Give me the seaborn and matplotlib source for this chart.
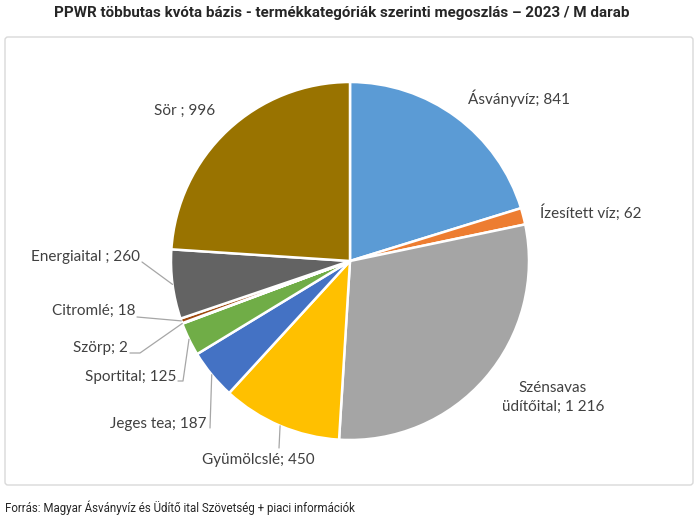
import numpy as np
import matplotlib.pyplot as plt
import seaborn as sns
from matplotlib.patches import FancyBboxPatch

categories = ["Ásványvíz", "Ízesített víz", "Szénsavas\nüdítőital", "Gyümölcslé",
              "Jeges tea", "Sportital", "Szörp", "Citromlé", "Energiaital ", "Sör "]
values = [841, 62, 1216, 450, 187, 125, 2, 18, 260, 996]
value_labels = ["841", "62", "1 216", "450", "187", "125", "2", "18", "260", "996"]
colors = ["#5B9BD5", "#ED7D31", "#A5A5A5", "#FFC000", "#4472C4",
          "#70AD47", "#264478", "#9E480E", "#636363", "#997300"]

# label anchors in pixels (x, y from top), alignment, and leader line bends
label_pos = [(468, 98, "left"), (540, 213, "left"), (553, 397, "center"),
             (258, 460, "center"), (207, 424, "right"), (176, 377, "right"),
             (128, 348, "right"), (136, 311, "right"), (140, 257, "right"),
             (215, 111, "right")]
leaders = {
    3: [(279, 448)],
    4: [(210, 428)],
    5: [(178, 381), (183, 381)],
    6: [(130, 353), (140, 353)],
    7: [(137, 317)],
    8: [(142, 262)],
}

W, H = 699, 529
sns.set_theme(style="white")
plt.rcParams["font.family"] = ["Lato", "DejaVu Sans"]

fig = plt.figure(figsize=(W / 100, H / 100), dpi=100)
ax = fig.add_axes([0, 0, 1, 1])

cx, cy, r = 350, H - 261, 179
wedges, _ = ax.pie(values, colors=colors, startangle=90, counterclock=False,
                   center=(cx, cy), radius=r, frame=True,
                   wedgeprops=dict(edgecolor="white", linewidth=1.8))
ax.set_xlim(0, W)
ax.set_ylim(0, H)
ax.set_aspect("equal")
ax.axis("off")

for i, (cat, val) in enumerate(zip(categories, value_labels)):
    x, y, ha = label_pos[i]
    ax.text(x, H - y, f"{cat}; {val}", ha=ha, va="center", fontsize=11,
            color="#404040", multialignment="center", linespacing=1.45)
    if i in leaders:
        w = wedges[i]
        mid = np.deg2rad((w.theta1 + w.theta2) / 2)
        px, py = cx + r * np.cos(mid), cy + r * np.sin(mid)
        pts = [(p[0], H - p[1]) for p in leaders[i]] + [(px, py)]
        ax.plot([p[0] for p in pts], [p[1] for p in pts], color="#A6A6A6", lw=0.9)

border = FancyBboxPatch((5, H - 485), 688, 448, boxstyle="round,pad=0,rounding_size=3",
                        fc="none", ec="#D9D9D9", lw=1.0)
ax.add_patch(border)

fig.text(342 / W, 1 - 13 / H, "PPWR többutas kvóta bázis - termékkategóriák szerinti megoszlás – 2023 / M darab",
         ha="center", va="center", fontsize=10.9, fontweight="bold", family=["Roboto", "DejaVu Sans"])
fig.text(5 / W, 1 - 508 / H, "Forrás: Magyar Ásványvíz és Üdítő ital Szövetség + piaci információk",
         ha="left", va="center", fontsize=8.3, family=["Roboto", "DejaVu Sans"])

fig.savefig("out.png", dpi=100)
